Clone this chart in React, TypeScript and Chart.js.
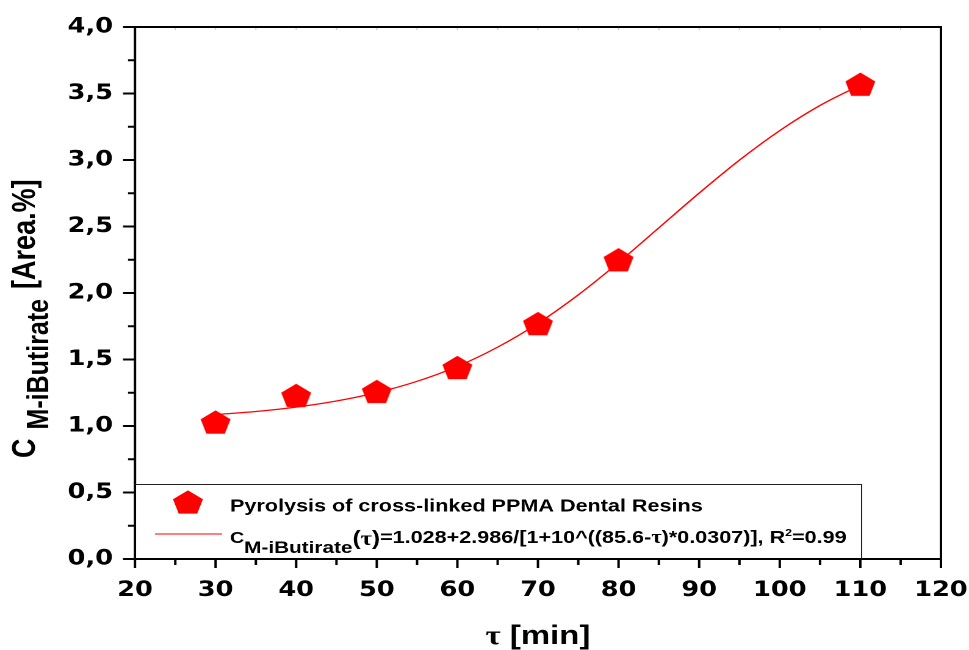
import React, { useEffect, useRef } from "react";
import { Chart, registerables } from "chart.js";

Chart.register(...registerables);

// ---------------- data ----------------
const sampleTime = [30, 40, 50, 60, 70, 80, 110];
const sampleConc = [1.03, 1.23, 1.26, 1.44, 1.77, 2.25, 3.57];

const fitTime = [30, 35, 40, 45, 50, 55, 60, 65, 70, 75, 80, 85, 90, 95, 100, 105, 110];
const fitConc = [1.086, 1.109, 1.142, 1.188, 1.251, 1.336, 1.448, 1.593, 1.772, 1.986, 2.229, 2.49, 2.751, 2.999, 3.221, 3.41, 3.563];

const xTickValues = [20, 30, 40, 50, 60, 70, 80, 90, 100, 110, 120];
const yTickValues = [0, 0.5, 1.0, 1.5, 2.0, 2.5, 3.0, 3.5, 4.0];

const seriesLabel = "Pyrolysis of cross-linked PPMA Dental Resins";
const fitLabelParts = ["C", "M-iButirate", "(", "τ", ")", "=1.028+2.986/[1+10^((85.6-", "τ", ")*0.0307)], R", "2", "=0.99"];
const xTitleParts = ["τ", " [min]"];
const yTitleParts = ["C", "M-iButirate", "[Area.%]"];

// ---------------- layout ----------------
const W0 = 794;
const H0 = 650;
const STRETCH = 969 / W0;
const SANS = '"Liberation Sans", Arial, sans-serif';
const SERIF = '"Liberation Serif", "DejaVu Serif", serif';
const RED = "#ff0000";
const PENT_R = 12.9;

function pentagonPath(ctx: CanvasRenderingContext2D, cx: number, cy: number, r: number) {
  ctx.beginPath();
  for (let i = 0; i < 5; i++) {
    const a = -Math.PI / 2 + (i * 2 * Math.PI) / 5;
    const px = cx + r * Math.cos(a);
    const py = cy + r * Math.sin(a);
    if (i === 0) ctx.moveTo(px, py);
    else ctx.lineTo(px, py);
  }
  ctx.closePath();
}

function makePentagonImage(): Promise<HTMLImageElement> {
  const size = 28;
  const k = 4;
  const c = document.createElement("canvas");
  c.width = size * k;
  c.height = size * k;
  const g = c.getContext("2d")!;
  g.scale(k, k);
  g.fillStyle = RED;
  pentagonPath(g, size / 2, size / 2 + 0.0955 * PENT_R, PENT_R);
  g.fill();
  const img = new Image();
  return new Promise((resolve) => {
    img.onload = () => {
      img.width = size;
      img.height = size;
      resolve(img);
    };
    img.src = c.toDataURL();
  });
}

type Run = { t: string; size: number; dy?: number; family?: string; gap?: number; weight?: string };

function drawRuns(ctx: CanvasRenderingContext2D, x: number, y: number, runs: Run[]) {
  let cx = x;
  for (const r of runs) {
    ctx.font = `${r.weight || "bold"} ${r.size}px ${r.family || SANS}`;
    ctx.fillText(r.t, cx, y + (r.dy || 0));
    cx += ctx.measureText(r.t).width + (r.gap || 0);
  }
  return cx;
}

const decorPlugin = {
  id: "decor",
  afterDraw(chart: any) {
    const { ctx, chartArea: a } = chart;
    const xs = chart.scales.x;
    const ys = chart.scales.y;
    ctx.save();

    // faint inner ticks on top axis
    ctx.strokeStyle = "#c8c8c8";
    ctx.lineWidth = 1;
    for (let i = 0; i < xTickValues.length; i++) {
      const v = xTickValues[i];
      const vals = [v];
      if (i < xTickValues.length - 1) vals.push((v + xTickValues[i + 1]) / 2);
      for (const vv of vals) {
        const px = xs.getPixelForValue(vv);
        ctx.beginPath();
        ctx.moveTo(px, a.top);
        ctx.lineTo(px, a.top + 3);
        ctx.stroke();
      }
    }

    // frame
    ctx.strokeStyle = "#000";
    ctx.lineWidth = 2;
    ctx.strokeRect(a.left, a.top, a.right - a.left, a.bottom - a.top);

    // x ticks (outside)
    for (let i = 0; i < xTickValues.length; i++) {
      const px = xs.getPixelForValue(xTickValues[i]);
      ctx.beginPath();
      ctx.moveTo(px, a.bottom);
      ctx.lineTo(px, a.bottom + 9);
      ctx.stroke();
      if (i < xTickValues.length - 1) {
        const pm = xs.getPixelForValue((xTickValues[i] + xTickValues[i + 1]) / 2);
        ctx.beginPath();
        ctx.moveTo(pm, a.bottom);
        ctx.lineTo(pm, a.bottom + 6);
        ctx.stroke();
      }
    }
    // y ticks (outside)
    for (let i = 0; i < yTickValues.length; i++) {
      const py = ys.getPixelForValue(yTickValues[i]);
      ctx.beginPath();
      ctx.moveTo(a.left, py);
      ctx.lineTo(a.left - 9.8, py);
      ctx.stroke();
      if (i < yTickValues.length - 1) {
        const pm = ys.getPixelForValue((yTickValues[i] + yTickValues[i + 1]) / 2);
        ctx.beginPath();
        ctx.moveTo(a.left, pm);
        ctx.lineTo(a.left - 5.7, pm);
        ctx.stroke();
      }
    }

    // legend box
    const lx0 = a.left;
    const lx1 = 705.5;
    const ly0 = 484;
    const ly1 = a.bottom;
    ctx.fillStyle = "#fff";
    ctx.fillRect(lx0 + 1, ly0, lx1 - lx0 - 1, ly1 - ly0 - 1);
    ctx.strokeStyle = "#222";
    ctx.lineWidth = 1;
    ctx.beginPath();
    ctx.moveTo(lx0, ly0 + 0.5);
    ctx.lineTo(lx1 + 0.5, ly0 + 0.5);
    ctx.lineTo(lx1 + 0.5, ly1);
    ctx.stroke();

    // legend symbol
    ctx.fillStyle = RED;
    pentagonPath(ctx, 154, 502 + 0.0955 * PENT_R, PENT_R);
    ctx.fill();
    // legend line
    ctx.strokeStyle = RED;
    ctx.lineWidth = 1;
    ctx.beginPath();
    ctx.moveTo(127, 534);
    ctx.lineTo(182, 534);
    ctx.stroke();

    ctx.fillStyle = "#000";
    ctx.textBaseline = "alphabetic";
    ctx.textAlign = "left";
    drawRuns(ctx, 188.5, 511.5, [{ t: seriesLabel, size: 17.7 }]);
    drawRuns(ctx, 188.5, 543, [
      { t: fitLabelParts[0], size: 16 },
      { t: fitLabelParts[1], size: 17, dy: 10 },
      { t: fitLabelParts[2], size: 20, dy: 2 },
      { t: fitLabelParts[3], size: 20, dy: 2, family: SERIF },
      { t: fitLabelParts[4], size: 20, dy: 2 },
      { t: fitLabelParts[5], size: 17.7 },
      { t: fitLabelParts[6], size: 18.5, family: SERIF },
      { t: fitLabelParts[7], size: 17.7 },
      { t: fitLabelParts[8], size: 10, dy: -7 },
      { t: fitLabelParts[9], size: 17.7 },
    ]);

    // x title, centered on chart area
    ctx.font = `bold 27px ${SERIF}`;
    const w1 = ctx.measureText(xTitleParts[0]).width;
    ctx.font = `bold 27px ${SANS}`;
    const w2 = ctx.measureText(xTitleParts[1]).width;
    const xc = (a.left + a.right) / 2;
    drawRuns(ctx, xc - (w1 + w2) / 2, 644, [
      { t: xTitleParts[0], size: 27, family: SERIF },
      { t: xTitleParts[1], size: 27 },
    ]);

    // y title, rotated
    ctx.save();
    ctx.translate(28.7, 458);
    ctx.rotate(-Math.PI / 2);
    drawRuns(ctx, 0, 0, [
      { t: yTitleParts[0], size: 27, gap: 9 },
      { t: yTitleParts[1], size: 25, dy: 11, gap: 10 },
      { t: yTitleParts[2], size: 27 },
    ]);
    ctx.restore();

    ctx.restore();
  },
};

export default function App() {
  const ref = useRef<HTMLCanvasElement | null>(null);

  useEffect(() => {
    document.body.style.margin = "0";
    let chart: Chart | null = null;
    let cancelled = false;

    makePentagonImage().then((img) => {
      if (cancelled || !ref.current) return;
      chart = new Chart(ref.current, {
        type: "scatter",
        data: {
          datasets: [
            {
              label: seriesLabel,
              data: sampleTime.map((t, i) => ({ x: t, y: sampleConc[i] })),
              pointStyle: img as any,
              pointRadius: 13,
              showLine: false,
              backgroundColor: RED,
              borderColor: RED,
            },
            {
              label: "fit",
              data: fitTime.map((t, i) => ({ x: t, y: fitConc[i] })),
              showLine: true,
              pointRadius: 0,
              borderColor: RED,
              borderWidth: 1.3,
              cubicInterpolationMode: "monotone",
              fill: false,
            } as any,
          ],
        },
        options: {
          responsive: false,
          animation: false,
          devicePixelRatio: 2,
          layout: { padding: { top: 27, right: 23, left: 0, bottom: 0 } },
          plugins: {
            legend: { display: false },
            tooltip: { enabled: false },
            title: { display: false },
          },
          scales: {
            x: {
              type: "linear",
              min: xTickValues[0],
              max: xTickValues[xTickValues.length - 1],
              grid: { display: false, drawTicks: false },
              border: { display: false },
              afterBuildTicks: (s: any) => {
                s.ticks = xTickValues.map((v) => ({ value: v }));
              },
              afterFit: (s: any) => {
                s.height = 91;
                s.paddingLeft = 0;
                s.paddingRight = 0;
              },
              ticks: {
                color: "#000",
                padding: 19,
                maxRotation: 0,
                autoSkip: false,
                font: { family: '"DejaVu Sans"', weight: "bold", size: 21 },
                callback: (v: any) => String(v),
              },
            },
            y: {
              type: "linear",
              min: yTickValues[0],
              max: yTickValues[yTickValues.length - 1],
              grid: { display: false, drawTicks: false },
              border: { display: false },
              afterBuildTicks: (s: any) => {
                s.ticks = yTickValues.map((v) => ({ value: v }));
              },
              afterFit: (s: any) => {
                s.width = 110.6;
                s.paddingTop = 0;
                s.paddingBottom = 0;
              },
              ticks: {
                color: "#000",
                padding: 18,
                autoSkip: false,
                font: { family: '"DejaVu Sans"', weight: "bold", size: 21 },
                callback: (v: any) => Number(v).toFixed(1).replace(".", ","),
              },
            },
          },
        },
        plugins: [decorPlugin],
      });
    });

    return () => {
      cancelled = true;
      if (chart) chart.destroy();
    };
  }, []);

  return (
    <div style={{ width: 969, height: H0, overflow: "hidden", position: "relative", background: "#fff" }}>
      <div
        style={{
          width: W0,
          height: H0,
          transform: `scaleX(${STRETCH})`,
          transformOrigin: "0 0",
        }}
      >
        <canvas ref={ref} width={W0} height={H0} style={{ display: "block" }} />
      </div>
    </div>
  );
}
